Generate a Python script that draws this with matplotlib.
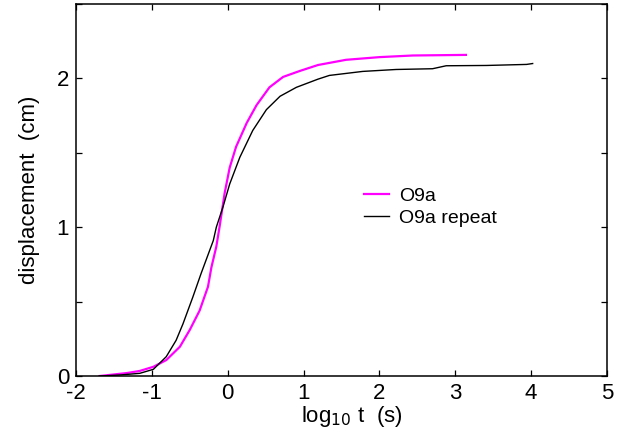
import matplotlib
matplotlib.use('Agg')
import matplotlib.pyplot as plt

plt.rcParams['font.family'] = ['Liberation Sans', 'DejaVu Sans']

# O9a (magenta), log10 t (s) vs displacement (cm)
o9a_logt = [-1.69, -1.33, -1.16, -0.98, -0.81, -0.63, -0.50, -0.37, -0.26, -0.215,
            -0.15, -0.105, -0.04, 0.026, 0.11, 0.25, 0.38, 0.55, 0.73, 0.95,
            1.19, 1.56, 2.0, 2.44, 3.14]
o9a_disp = [0.0, 0.02, 0.034, 0.062, 0.107, 0.197, 0.31, 0.44, 0.60, 0.73,
            0.87, 1.01, 1.23, 1.40, 1.54, 1.70, 1.82, 1.94, 2.01, 2.05,
            2.09, 2.125, 2.143, 2.154, 2.158]

# O9a repeat (black)
rep_logt = [-1.69, -1.42, -1.16, -0.98, -0.81, -0.68, -0.59, -0.46, -0.35, -0.19,
            -0.15, -0.06, 0.026, 0.16, 0.33, 0.51, 0.69, 0.905, 1.19, 1.34,
            1.78, 2.22, 2.70, 2.88, 3.41, 3.94, 4.02]
rep_disp = [0.0, 0.007, 0.018, 0.045, 0.13, 0.24, 0.35, 0.53, 0.69, 0.91,
            1.0, 1.14, 1.29, 1.47, 1.65, 1.79, 1.88, 1.94, 1.995, 2.02,
            2.047, 2.06, 2.065, 2.085, 2.087, 2.094, 2.10]

x_ticks = [-2, -1, 0, 1, 2, 3, 4, 5]
y_ticks = [0, 0.5, 1, 1.5, 2, 2.5]
y_labels = ['0', '', '1', '', '2', '']

fig = plt.figure(figsize=(6.3, 4.45), dpi=100)
ax = fig.add_axes([0.1206, 0.155, 0.8429, 0.836])

ax.plot(o9a_logt, o9a_disp, color='#ff00ff', lw=1.6, label='O9a')
ax.plot(rep_logt, rep_disp, color='black', lw=1.0, label='O9a repeat')

ax.set_xlim(-2, 5)
ax.set_ylim(0, 2.5)
ax.set_xticks(x_ticks)
ax.set_xticklabels([str(t) for t in x_ticks])
ax.set_yticks(y_ticks)
ax.set_yticklabels(y_labels)
ax.tick_params(direction='in', length=4.5, width=0.9, top=True, right=True,
               labelsize=16, pad=5)
for s in ax.spines.values():
    s.set_linewidth(1.1)

ax.set_xlabel(r'log$_{10}$ t  (s)', fontsize=16)
ax.xaxis.set_label_coords(0.52, -0.075)
ax.set_ylabel('displacement  (cm)', fontsize=16, labelpad=12)

ax.legend(loc='center left', bbox_to_anchor=(0.542, 0.454), frameon=False,
          fontsize=14, handlelength=1.3, handletextpad=0.5, labelspacing=0.2,
          borderpad=0, borderaxespad=0)

fig.savefig('out.png', dpi=100)
